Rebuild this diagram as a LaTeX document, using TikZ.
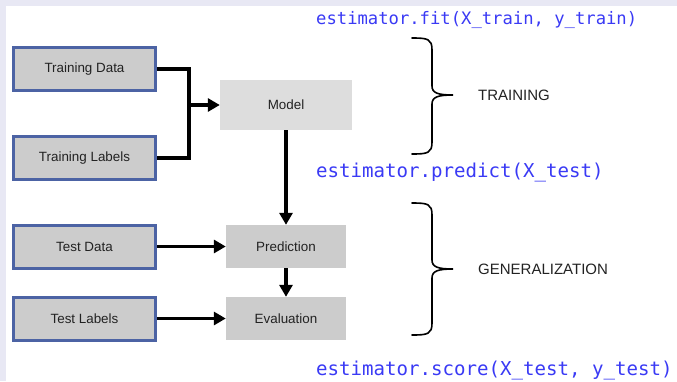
\documentclass[tikz,border=0pt]{standalone}
\usepackage{fontspec}
\setmainfont{Liberation Sans}
\setmonofont{DejaVu Sans Mono}
\usetikzlibrary{arrows.meta}

\definecolor{pagebg}{RGB}{232,232,244}
\definecolor{boxblue}{RGB}{76,99,164}
\definecolor{boxgray}{RGB}{204,204,204}
\definecolor{modelgray}{RGB}{221,221,221}
\definecolor{codeblue}{RGB}{58,58,245}
\definecolor{textdark}{RGB}{34,34,34}

\tikzset{
  databox/.style={draw=boxblue,line width=3pt,fill=boxgray,minimum width=142pt,
    minimum height=43pt,text=textdark,font=\fontsize{13.4}{15}\selectfont},
  stepbox/.style={fill=boxgray,minimum width=120pt,minimum height=43pt,
    text=textdark,font=\fontsize{13.4}{15}\selectfont},
  flow/.style={line width=3.5pt,-{Triangle[length=12pt,width=13pt]}},
  code/.style={anchor=west,inner sep=0pt,text=codeblue,
    font=\ttfamily\fontsize{19.1}{22}\selectfont},
  phase/.style={anchor=west,inner sep=0pt,text=textdark,
    font=\fontsize{15}{18}\selectfont},
  bracket/.style={line width=1.6pt,line cap=round}
}

\begin{document}
\begin{tikzpicture}[x=1pt,y=-1pt]

      \useasboundingbox (0,0) rectangle (677,381);
      \fill[pagebg] (0,0) rectangle (677,381);
      \fill[white] (6,6) rectangle (677,381);

      \begin{scope}[every node/.style={databox}]
        \node (td)  at (84.5,69)    {Training Data};
        \node (tl)  at (84.5,158)   {Training Labels};
        \node (ted) at (84.5,246.5) {Test Data};
        \node (tel) at (84.5,318.5) {Test Labels};
      \end{scope}

      \node[stepbox,fill=modelgray,minimum width=132pt,minimum height=50pt] (model) at (286,105) {Model};
      \node[stepbox] (pred) at (286,246.5) {Prediction};
      \node[stepbox] (eval) at (286,318.5) {Evaluation};

      \coordinate (join) at (189,105);

      \draw[line width=3.5pt] (td.east) -| (join) |- (tl.east);
      \draw[flow] (join) -- (model.west);
      \draw[flow] (model.south) -- (pred.north);
      \draw[flow] (pred.south) -- (eval.north);
      \draw[flow] (ted.east) -- (pred.west);
      \draw[flow] (tel.east) -- (eval.west);

      \node[code,font=\ttfamily\fontsize{17.2}{20}\selectfont] (fit) at (316,20) {estimator.fit(X\_train, y\_train)};
      \node[code] (predict) at (316,172) {estimator.predict(X\_test)};
      \node[code] (score)   at (316,370) {estimator.score(X\_test, y\_test)};

      % braces
      \draw[bracket] (412,38) .. controls (428,38) and (432,39) .. (432,50)
        -- (432,86) .. controls (432,93) and (438,95) .. (453,95)
        .. controls (438,95) and (432,97) .. (432,104)
        -- (432,142) .. controls (432,153) and (428,154) .. (412,154);
      \draw[bracket] (412,203) .. controls (428,203) and (432,204) .. (432,215)
        -- (432,260) .. controls (432,267) and (438,269) .. (453,269)
        .. controls (438,269) and (432,271) .. (432,278)
        -- (432,323) .. controls (432,334) and (428,335) .. (412,335);

      \node[phase] (train) at (478,95)  {TRAINING};
      \node[phase] (gen)   at (478,269) {GENERALIZATION};

    \end{tikzpicture}
\end{document}
